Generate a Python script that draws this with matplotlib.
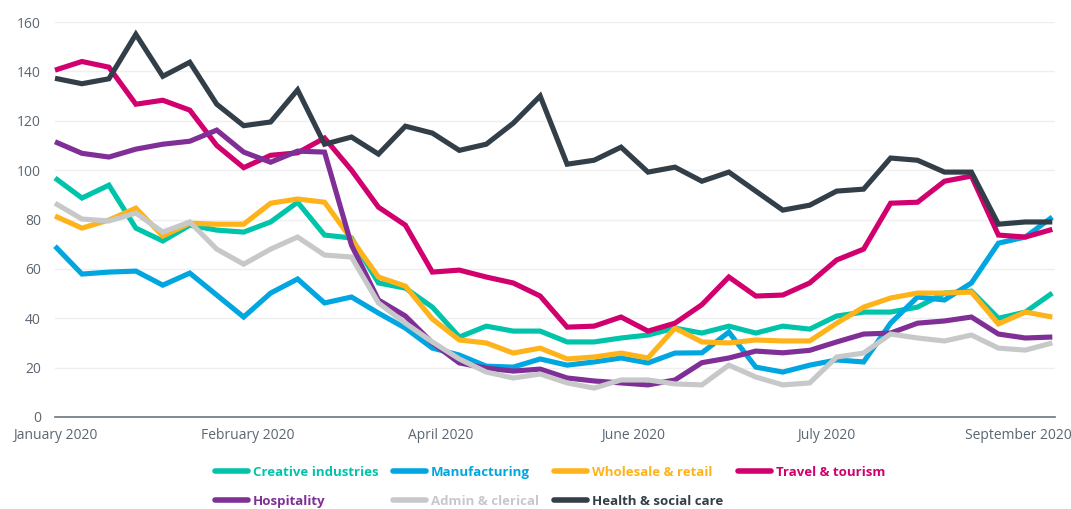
import numpy as np
import matplotlib
matplotlib.use('Agg')
import matplotlib.pyplot as plt

plt.rcParams['font.family'] = ['Open Sans', 'DejaVu Sans']

# weekly index values, January to mid September 2020
creative = [96.8, 88.7, 93.9, 76.5, 71.3, 77.7, 75.7, 74.9, 79, 87, 73.7, 72.5,
            54.3, 52.2, 44.5, 32.4, 36.8, 34.8, 34.8, 30.4, 30.4, 32, 33.2, 36,
            34, 36.8, 34, 36.8, 35.6, 40.9, 42.5, 42.5, 44.5, 50.2, 51, 40, 42.5, 50.2]
manufacturing = [69.2, 57.9, 58.7, 59.1, 53.4, 58.3, 49.4, 40.5, 50.2, 55.9, 46.2, 48.6,
                 42.1, 36, 27.9, 25.1, 20.6, 20.2, 23.5, 21, 22.3, 23.9, 21.9, 25.9,
                 26, 34.4, 20.2, 18.2, 21, 23.1, 22.3, 38, 48.6, 47.4, 54.3, 70.4, 72.9, 81]
wholesale = [81.4, 76.5, 79.8, 84.6, 73.3, 78.5, 78.1, 78.1, 86.6, 88.3, 87, 72,
             56.7, 53, 39.7, 31.2, 30, 25.9, 27.9, 23.5, 24.3, 25.9, 23.9, 36,
             30.4, 30, 31.2, 30.8, 30.8, 38, 44.5, 48.2, 50.2, 50.2, 50.6, 37.7, 42.5, 40.5]
travel = [140.5, 144, 141.7, 126.7, 128.3, 124.3, 110, 101, 106, 107, 113, 100,
          85, 77.7, 58.7, 59.5, 56.7, 54.3, 49, 36.4, 36.8, 40.5, 34.8, 38,
          45.5, 56.7, 49, 49.4, 54.3, 63.6, 68, 86.6, 87, 95.5, 97.6, 73.7, 72.9, 76]
hospitality = [111.5, 106.8, 105.3, 108.5, 110.5, 111.7, 116.2, 107.3, 103.2, 107.7, 107.3, 69.6,
               47.4, 40.9, 30, 21.9, 19.8, 18.6, 19.4, 15.8, 14.6, 13.8, 13, 15,
               22, 23.9, 26.7, 26, 27, 30.4, 33.6, 34, 38, 38.9, 40.5, 33.6, 32, 32.4]
admin = [86.6, 80.2, 79.4, 82.6, 74.9, 79, 68, 61.9, 68, 72.9, 65.6, 64.8,
         46.2, 38, 30.4, 23.5, 18.2, 15.8, 17.4, 13.8, 11.7, 15, 15, 13.4,
         13, 21, 16.2, 13, 13.8, 24.3, 25.9, 33.6, 32, 30.8, 33.2, 27.9, 27.1, 30]
health = [137.2, 135, 137, 155, 138, 143.7, 126.7, 118, 119.5, 132.5, 110.5, 113.4,
          106.5, 117.8, 115, 108, 110.5, 119, 130, 102.4, 104, 109.3, 99.2, 101.2,
          95.5, 99.2, 91.5, 83.8, 85.8, 91.5, 92.3, 104.9, 104, 99.2, 99.2, 78.1, 79, 79]

month_labels = ['January 2020', 'February 2020', 'April 2020', 'June 2020',
                'July 2020', 'September 2020']

series = [
    ('Creative industries', creative, '#00c4aa'),
    ('Manufacturing', manufacturing, '#00a6e0'),
    ('Wholesale & retail', wholesale, '#ffb31a'),
    ('Travel & tourism', travel, '#d1006e'),
    ('Hospitality', hospitality, '#7f2f96'),
    ('Admin & clerical', admin, '#c6c8ca'),
    ('Health & social care', health, '#323e48'),
]

fig = plt.figure(figsize=(10.71, 5.09), dpi=100)
ax = fig.add_axes([55 / 1071, 1 - 417 / 509, 1000 / 1071, 395 / 509])

x = np.arange(len(health))
lines = {}
for name, vals, col in series:
    ln, = ax.plot(x, vals, color=col, lw=3.7, label=name,
                  solid_joinstyle='miter', solid_capstyle='butt', clip_on=False)
    lines[name] = ln

ax.set_xlim(0, 37.1)
ax.set_ylim(0, 160)
ax.set_yticks(range(0, 161, 20))
ax.set_xticks(np.linspace(0, 35.75, 6))
ax.set_xticklabels(month_labels)
ax.tick_params(axis='both', length=0, labelsize=10, colors='#5b6670')
ax.tick_params(axis='y', pad=10)
ax.tick_params(axis='x', pad=8)
ax.grid(axis='y', color='#efefef', lw=1)
ax.set_axisbelow(True)
for s in ['top', 'right', 'left']:
    ax.spines[s].set_visible(False)
ax.spines['bottom'].set_color('#6b7680')
ax.spines['bottom'].set_linewidth(1.2)

# legend filled column by column: 4 columns, 2 rows
order = ['Creative industries', 'Hospitality', 'Manufacturing', 'Admin & clerical',
         'Wholesale & retail', 'Health & social care', 'Travel & tourism']
handles = [lines[n] for n in order]
leg = fig.legend(handles, order, loc='upper center', ncol=4,
                 bbox_to_anchor=(550 / 1071, 1 - 454 / 509), frameon=False,
                 prop={'weight': 'bold', 'size': 9.5}, handlelength=2.5,
                 handletextpad=0.35, columnspacing=1.15, labelspacing=1.2,
                 labelcolor='linecolor')
for h in leg.legend_handles:
    h.set_solid_capstyle('round')
    h.set_linewidth(4)

fig.savefig('out.png', dpi=100)
